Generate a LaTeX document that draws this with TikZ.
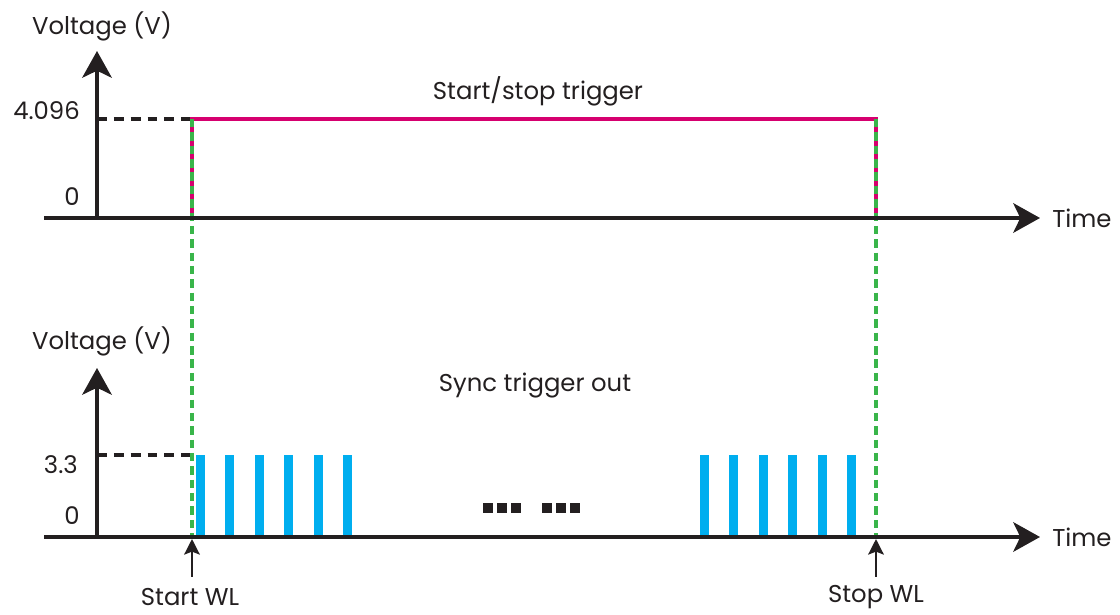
\documentclass[tikz,border=0pt]{standalone}
\usepackage{fontspec}
\setmainfont{Poppins}
\usetikzlibrary{arrows.meta}
\definecolor{inkc}{RGB}{35,31,32}
\definecolor{trigc}{RGB}{214,0,111}
\definecolor{pulsec}{RGB}{0,174,239}
\definecolor{wlc}{RGB}{57,181,74}

\begin{document}
\begin{tikzpicture}[x=0.025cm,y=-0.025cm]
			\tikzset{axis/.style={draw=inkc, line width=2.6pt, -{Stealth[length=19pt,width=21pt,inset=5pt]}}}
			\tikzset{lbl/.style={font=\fontsize{17.3}{20}\selectfont, text=inkc, inner sep=0pt}}
			\tikzset{level/.style={draw=inkc, line width=2.2pt, dash pattern=on 7pt off 5pt}}
			\tikzset{trig/.style={draw=trigc, line width=2.6pt}}
			\tikzset{wl/.style={draw=wlc, line width=2.2pt, dash pattern=on 6pt off 3.5pt}}
			\tikzset{pulse/.style={fill=pulsec}}
			\tikzset{mark it/.style={draw=inkc, line width=2pt, -{Stealth[length=11pt,width=11pt,inset=2pt]}}}
			\useasboundingbox (0,0) rectangle (1120,615);
			%top axes
			\coordinate (o1) at (97,218);
			\coordinate (l1) at (44,218);
			\coordinate (t1) at (1040,218);
			\coordinate (v1) at (97,51);
			\coordinate (h1) at (97,119);
			%bottom axes
			\coordinate (o2) at (97,537);
			\coordinate (l2) at (44,537);
			\coordinate (t2) at (1040,537);
			\coordinate (v2) at (97,368);
			\coordinate (h2) at (97,455);
			%trigger corners
			\coordinate (a0) at (192,218);
			\coordinate (a1) at (192,119);
			\coordinate (b1) at (876,119);
			\coordinate (b0) at (876,218);
			\coordinate (a2) at (192,537);
			\coordinate (b2) at (876,537);
			\coordinate (a3) at (192,455);
			\coordinate (sa) at (192,577);
			\coordinate (sb) at (192,539);
			\coordinate (ta) at (876,577);
			\coordinate (tb) at (876,539);
			%labels
			\node[lbl] (volt1) at (102,26) {Voltage (V)};
			\node[lbl, anchor=east] (hi1) at (80,111) {4.096};
			\node[lbl, anchor=east] (lo1) at (80,197) {0};
			\node[lbl, anchor=west] (time1) at (1052,218) {Time};
			\node[lbl] (name1) at (538,91) {Start/stop trigger};
			\node[lbl] (volt2) at (102,341) {Voltage (V)};
			\node[lbl, anchor=east] (hi2) at (78,465) {3.3};
			\node[lbl, anchor=east] (lo2) at (80,516) {0};
			\node[lbl, anchor=west] (time2) at (1052,537) {Time};
			\node[lbl] (name2) at (535,386) {Sync trigger out};
			\node[lbl] (start) at (190,597) {Start WL};
			\node[lbl] (stop) at (876,597) {Stop WL};
			%pulses
			\foreach \i in {0,...,5} {
				\fill[pulse] (196+29.4*\i,455) rectangle ++(9,82);
				\fill[pulse] (700+29.4*\i,455) rectangle ++(9,82);
			}
			\foreach \x in {483,497,511,542,556,570}
				\fill[inkc] (\x,503) rectangle ++(10,10);
			%edges
			\draw[level] (h1) -- (a1);
			\draw[level] (h2) -- (a3);
			\draw[trig] (a0) -- (a1) -- (b1) -- (b0);
			\draw[wl] (a1) -- (a2);
			\draw[wl] (b1) -- (b2);
			\draw[axis] (l1) -- (t1);
			\draw[axis] (o1) -- (v1);
			\draw[axis] (l2) -- (t2);
			\draw[axis] (o2) -- (v2);
			\draw[mark it] (sa) -- (sb);
			\draw[mark it] (ta) -- (tb);
\end{tikzpicture}
\end{document}
